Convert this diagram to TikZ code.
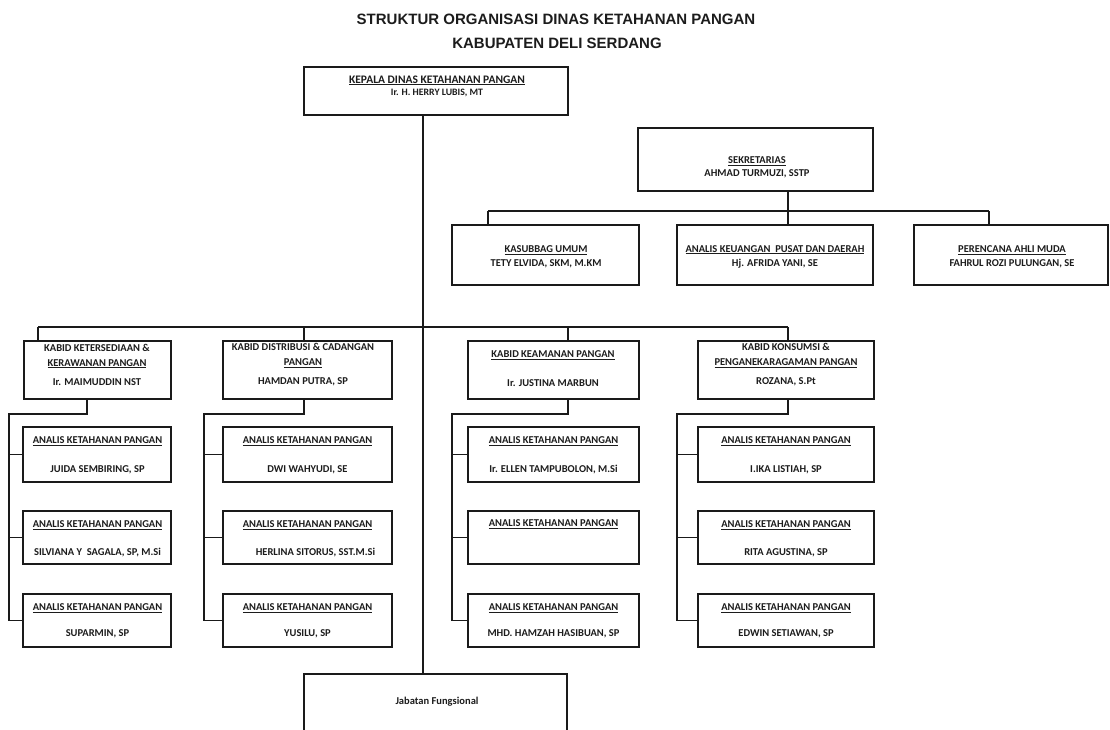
\documentclass[tikz,border=0pt]{standalone}
\usepackage{fontspec}
\setmainfont{Carlito}
\newfontfamily\titlefont{Liberation Sans}
\definecolor{ink}{HTML}{1A1A1A}
\definecolor{txt}{HTML}{1C1C1C}
\newcommand\orgbox[5]{\node[box, minimum width={(#4-#2)*1pt}, minimum height={(#5-#3)*1pt}] (#1) at ({(#2+#4)/2},{(#3+#5)/2}) {};}
\begin{document}
\begin{tikzpicture}[x=1pt,y=-1pt,
  box/.style={draw=ink, line width=1.3pt, fill=white, inner sep=0pt, rectangle},
  lbl/.style={text=txt, font=\fontsize{10.5}{12.6}\selectfont\bfseries, align=center, inner sep=0pt},
  ttl/.style={text=txt, font=\titlefont\fontsize{15}{17}\selectfont\bfseries, inner sep=0pt},
  conn/.style={draw=ink, line width=1.3pt}]
\useasboundingbox (0,0) rectangle (1110,729);
\clip (0,0) rectangle (1110,729);
\fill[white] (0,0) rectangle (1110,729);

% title
\node[ttl] (title1) at (556,19) {STRUKTUR ORGANISASI DINAS KETAHANAN PANGAN};
\node[ttl] (title2) at (557,43) {KABUPATEN DELI SERDANG};

% boxes
\orgbox{kepala}{304}{67}{568}{115}
\orgbox{sek}{638}{128}{873}{191}
\orgbox{kasubbag}{452}{225}{639}{285}
\orgbox{keuangan}{677}{225}{873}{285}
\orgbox{perencana}{914}{225}{1108}{285}
\orgbox{k1}{24}{341}{171}{399}
\orgbox{k2}{223}{341}{392}{399}
\orgbox{k3}{468}{341}{639}{399}
\orgbox{k4}{698}{341}{874}{399}
\orgbox{a11}{23}{427}{171}{482}
\orgbox{a12}{23}{511}{171}{564}
\orgbox{a13}{23}{594}{171}{647}
\orgbox{a21}{223}{427}{392}{482}
\orgbox{a22}{223}{511}{392}{564}
\orgbox{a23}{223}{594}{392}{647}
\orgbox{a31}{468}{427}{639}{482}
\orgbox{a32}{468}{511}{639}{564}
\orgbox{a33}{468}{594}{639}{647}
\orgbox{a41}{698}{427}{874}{482}
\orgbox{a42}{698}{511}{874}{564}
\orgbox{a43}{698}{594}{874}{647}
\orgbox{jab}{304}{674}{567}{740}

% texts
\node[lbl] (kepalaT) at (437,86) {{\fontsize{11.5}{12.6}\selectfont\underline{KEPALA DINAS KETAHANAN PANGAN}}\\[-0.6pt] {\fontsize{9.8}{12.6}\selectfont Ir. H. HERRY LUBIS, MT}};
\node[lbl] (sekT) at (757,167) {\underline{SEKRETARIAS}\\[0.4pt] AHMAD TURMUZI, SSTP};
\node[lbl] (kasubbagT) at (546,256.5) {\underline{KASUBBAG UMUM}\\[1.4pt] TETY ELVIDA, SKM, M.KM};
\node[lbl] (keuanganT) at (775,256.5) {\underline{ANALIS KEUANGAN \ PUSAT DAN DAERAH}\\[1.4pt] Hj. AFRIDA YANI, SE};
\node[lbl] (perencanaT) at (1012,256.5) {\underline{PERENCANA AHLI MUDA}\\[1.4pt] FAHRUL ROZI PULUNGAN, SE};

\node[lbl] (k1T) at (97,364.5) {KABID KETERSEDIAAN \&\\[2.4pt] \underline{KERAWANAN PANGAN}\\[6.4pt] Ir. MAIMUDDIN NST};
\node[lbl] (k2T) at (303,364.5) {KABID DISTRIBUSI \& CADANGAN\\[2.4pt] \underline{PANGAN}\\[6.4pt] HAMDAN PUTRA, SP};
\node[lbl] (k3T) at (553,369) {\underline{KABID KEAMANAN PANGAN}\\[16.4pt] Ir. JUSTINA MARBUN};
\node[lbl] (k4T) at (786,364.5) {KABID KONSUMSI \&\\[2.4pt] \underline{PENGANEKARAGAMAN PANGAN}\\[6.4pt] ROZANA, S.Pt};

\node[lbl] (a11T) at (97.5,455) {\underline{ANALIS KETAHANAN PANGAN}\\[16.4pt] JUIDA SEMBIRING, SP};
\node[lbl] (a12T) at (97.5,538.5) {\underline{ANALIS KETAHANAN PANGAN}\\[15.4pt] SILVIANA Y \ SAGALA, SP, M.Si};
\node[lbl] (a13T) at (97.5,621) {\underline{ANALIS KETAHANAN PANGAN}\\[13.4pt] SUPARMIN, SP};
\node[lbl] (a21T) at (307.5,455) {\underline{ANALIS KETAHANAN PANGAN}\\[16.4pt] DWI WAHYUDI, SE};
\node[lbl] (a22T) at (307.5,538.5) {\underline{ANALIS KETAHANAN PANGAN}\\[15.4pt] \hspace*{16pt}HERLINA SITORUS, SST.M.Si};
\node[lbl] (a23T) at (307.5,621) {\underline{ANALIS KETAHANAN PANGAN}\\[13.4pt] YUSILU, SP};
\node[lbl] (a31T) at (553.5,455) {\underline{ANALIS KETAHANAN PANGAN}\\[16.4pt] Ir. ELLEN TAMPUBOLON, M.Si};
\node[lbl] (a32T) at (553.5,524.5) {\underline{ANALIS KETAHANAN PANGAN}};
\node[lbl] (a33T) at (553.5,621) {\underline{ANALIS KETAHANAN PANGAN}\\[13.4pt] MHD. HAMZAH HASIBUAN, SP};
\node[lbl] (a41T) at (786,455) {\underline{ANALIS KETAHANAN PANGAN}\\[16.4pt] I.IKA LISTIAH, SP};
\node[lbl] (a42T) at (786,538.5) {\underline{ANALIS KETAHANAN PANGAN}\\[15.4pt] RITA AGUSTINA, SP};
\node[lbl] (a43T) at (786,621) {\underline{ANALIS KETAHANAN PANGAN}\\[13.4pt] EDWIN SETIAWAN, SP};
\node[lbl] (jabT) at (437,702) {Jabatan Fungsional};

% connector points
\coordinate (trunk) at (423,327);
\coordinate (kd1) at (38,327);
\coordinate (kd2) at (304,327);
\coordinate (kd3) at (568,327);
\coordinate (kd4) at (788,327);
\coordinate (l1) at (87,414);
\coordinate (l2) at (304,414);
\coordinate (l3) at (568,414);
\coordinate (l4) at (788,414);
\coordinate (c1) at (9,414);
\coordinate (c2) at (204,414);
\coordinate (c3) at (452,414);
\coordinate (c4) at (677,414);
\coordinate (sd) at (788,211);
\coordinate (sb1) at (488,211);
\coordinate (sb3) at (989,211);

% connectors
\draw[conn] (kepala.south -| trunk) -- (jab.north -| trunk);
\draw[conn] (kd1) -- (kd4);
\foreach \i in {1,2,3,4}{
  \draw[conn] (kd\i) -- (k\i.north -| kd\i);
  \draw[conn] (k\i.south -| l\i) -- (l\i) -- (c\i) -- (a\i3.west -| c\i) -- (a\i3.west);
  \draw[conn] (a\i1.west -| c\i) -- (a\i1.west);
  \draw[conn] (a\i2.west -| c\i) -- (a\i2.west);
}
\draw[conn] (sek.south -| sd) -- (sd);
\draw[conn] (sb1) -- (sb3);
\draw[conn] (sb1) -- (kasubbag.north -| sb1);
\draw[conn] (sd) -- (keuangan.north -| sd);
\draw[conn] (sb3) -- (perencana.north -| sb3);
\end{tikzpicture}
\end{document}
